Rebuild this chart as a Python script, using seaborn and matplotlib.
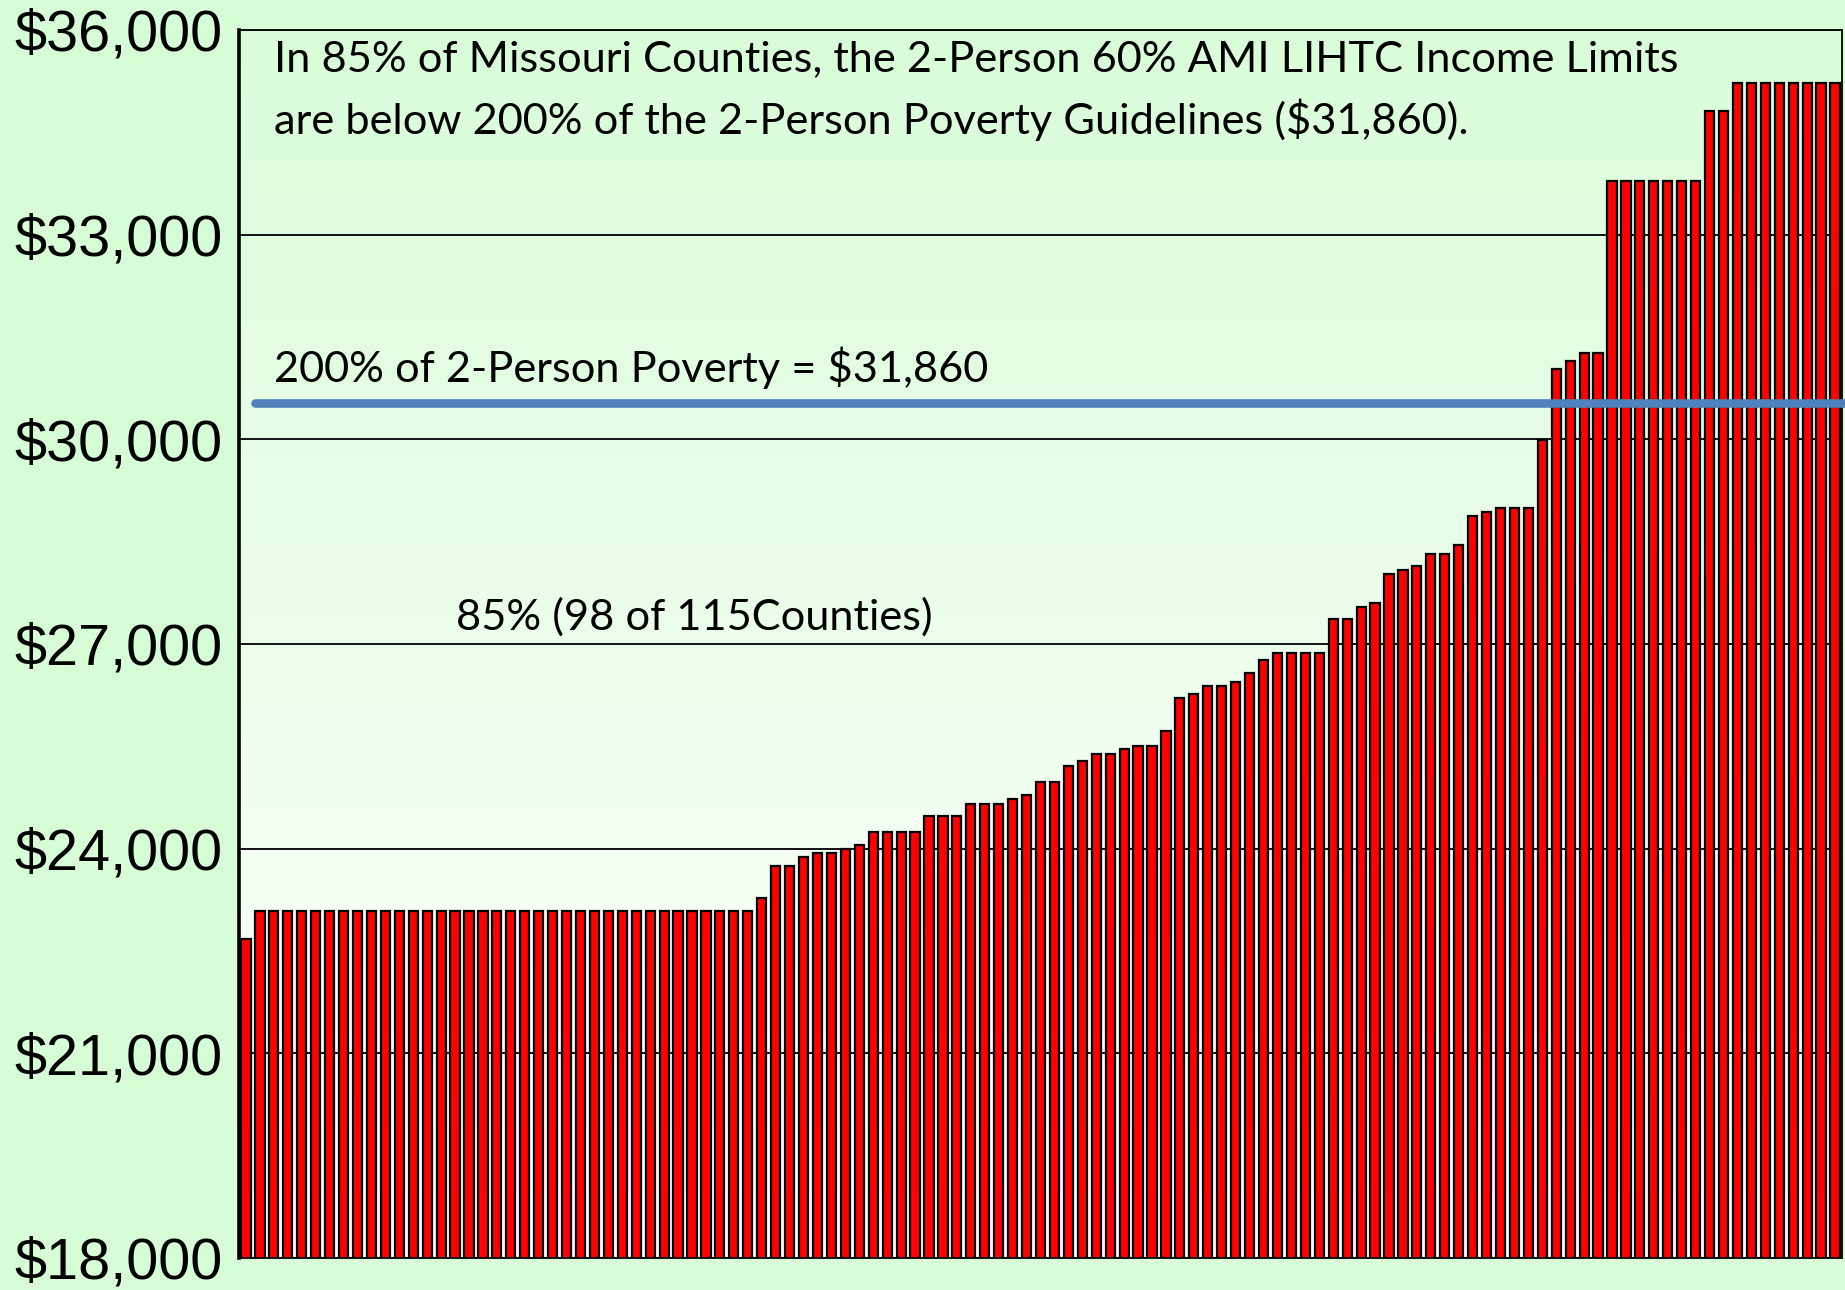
import numpy as np
import pandas as pd
import matplotlib
matplotlib.use("Agg")
import matplotlib.pyplot as plt
import seaborn as sns
from matplotlib.colors import LinearSegmentedColormap

# ---------------- data ----------------
income_limits = [
    22670,
    23090, 23090, 23090, 23090, 23090, 23090, 23090, 23090, 23090, 23090,
    23090, 23090, 23090, 23090, 23090, 23090, 23090, 23090, 23090, 23090,
    23090, 23090, 23090, 23090, 23090, 23090, 23090, 23090, 23090, 23090,
    23090, 23090, 23090, 23090, 23090, 23090,
    23270,
    23750, 23750,
    23880,
    23940, 23940,
    23990,
    24060,
    24240, 24240, 24240, 24240,
    24480, 24480, 24480,
    24660, 24660, 24660,
    24730,
    24790,
    24970, 24970,
    25210,
    25280,
    25390, 25390,
    25460,
    25510, 25510,
    25730,
    26210,
    26270,
    26390, 26390,
    26450,
    26580,
    26760,
    26870, 26870, 26870, 26870,
    27360, 27360,
    27540,
    27600,
    28020,
    28090,
    28140,
    28320, 28320,
    28450,
    28880,
    28940,
    29000, 29000, 29000,
    29990,
    31030,
    31150,
    31270, 31270,
    33780, 33780, 33780, 33780, 33780, 33780, 33780,
    34810, 34810,
    35230, 35230, 35230, 35230, 35230, 35230, 35230, 35230,
]
county_rank = [str(i + 1) for i in range(len(income_limits))]

y_ticks = [18000, 21000, 24000, 27000, 30000, 33000, 36000]
y_tick_labels = ["$18,000", "$21,000", "$24,000", "$27,000", "$30,000", "$33,000", "$36,000"]

poverty_line_drawn = 30530   # where the blue line is drawn in the reference
headline_1 = "In 85% of Missouri Counties, the 2-Person 60% AMI LIHTC Income Limits"
headline_2 = "are below 200% of the 2-Person Poverty Guidelines ($31,860)."
poverty_label = "200% of 2-Person Poverty = $31,860"
share_label = "85% (98 of 115Counties)"

# ---------------- styling ----------------
sns.set_theme(style="white")
plt.rcParams["font.family"] = ["Liberation Sans", "DejaVu Sans"]

W, H = 1845, 1290
fig = plt.figure(figsize=(W / 100, H / 100), dpi=100, facecolor="#D6FDD6")
ax = fig.add_axes([239 / W, 1 - 1258 / H, 1603 / W, 1228 / H])

n = len(income_limits)
# vertical gradient background: white at bottom -> pale green at top
grad = np.linspace(0, 1, 256).reshape(-1, 1)
cmap = LinearSegmentedColormap.from_list("bg", ["#FFFFFF", "#D9FDD9"])
ax.imshow(grad, extent=[-0.5, n - 0.5, y_ticks[0], y_ticks[-1]], origin="lower",
          aspect="auto", cmap=cmap, zorder=0)

df = pd.DataFrame({"county": county_rank, "limit": income_limits})
sns.barplot(data=df, x="county", y="limit", color="#FF0000", saturation=1,
            edgecolor="black", linewidth=1.6, width=0.66, ax=ax, zorder=2,
            errorbar=None)

ax.set_xlim(-0.5, n - 0.5)
ax.set_ylim(y_ticks[0], y_ticks[-1])
ax.set_xticks([])
ax.set_xlabel("")
ax.set_ylabel("")
ax.set_yticks(y_ticks)
ax.set_yticklabels(y_tick_labels, fontsize=41.5, family="Liberation Sans", color="black")
ax.tick_params(axis="y", length=0, pad=12)

ax.set_axisbelow(True)
ax.yaxis.grid(True, color="#111111", linewidth=1.4)
ax.xaxis.grid(False)

for name, sp in ax.spines.items():
    sp.set_visible(True)
    sp.set_color("black")
    sp.set_linewidth(1.3)
ax.spines["left"].set_linewidth(2.6)

ax.axhline(poverty_line_drawn, xmin=0.01, xmax=1.003, color="#4F81BD", lw=6.2,
           zorder=4, clip_on=False)

txt_kw = dict(fontsize=31.2, family=["Lato", "DejaVu Sans"], color="black",
              ha="left", va="center")
fig.text(274 / W, 1 - 59 / H, headline_1, **txt_kw)
fig.text(274 / W, 1 - 120 / H, headline_2, **txt_kw)
fig.text(274 / W, 1 - 368 / H, poverty_label, **txt_kw)
fig.text(456 / W, 1 - 617 / H, share_label, **txt_kw)

fig.savefig("out.png", dpi=100, facecolor=fig.get_facecolor())
